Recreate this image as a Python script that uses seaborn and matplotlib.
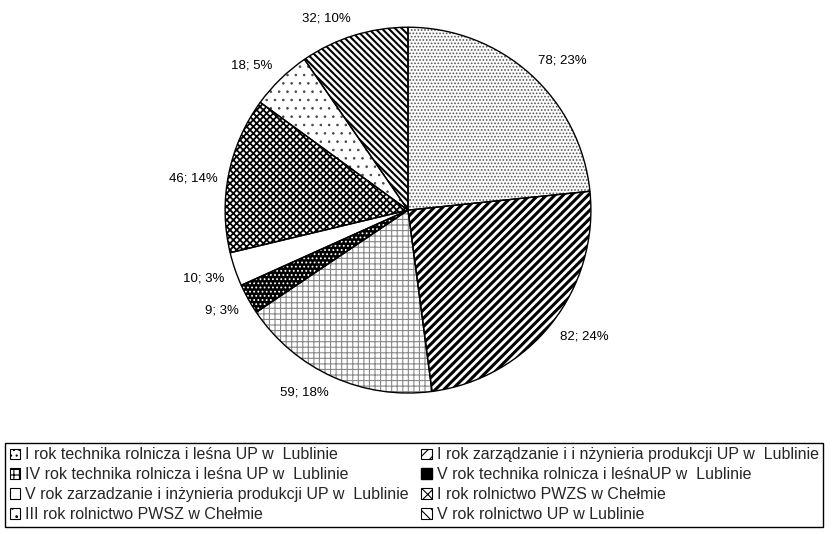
import numpy as np
import matplotlib.pyplot as plt
import matplotlib.patches as mpatches
import seaborn as sns

# data
groups = ['I rok technika rolnicza i leśna UP w  Lublinie',
          'I rok zarządzanie i i nżynieria produkcji UP w  Lublinie',
          'IV rok technika rolnicza i leśna UP w  Lublinie',
          'V rok technika rolnicza i leśnaUP w  Lublinie',
          'V rok zarzadzanie i inżynieria produkcji UP w  Lublinie',
          'I rok rolnictwo PWZS w Chełmie',
          'III rok rolnictwo PWSZ w Chełmie',
          'V rok rolnictwo UP w Lublinie']
counts = [78, 82, 59, 9, 10, 46, 18, 32]
percents = [23, 24, 18, 3, 3, 14, 5, 10]

# black & white look of the original
faces = ['white', 'white', 'white', 'black', 'white', 'white', 'white', 'white']
hatch_cols = ['#555555', 'black', '#888888', 'white', 'white', 'black', '#444444', 'black']
hatches = ['.....', '////', '+++', '....', '', 'xxxxx', '..', '\\\\\\\\\\']
hatch_lw = [0.8, 2.2, 0.8, 0.8, 0.8, 1.3, 0.6, 1.5]

sns.set_theme(style='white')
plt.rcParams['font.family'] = ['Liberation Sans', 'DejaVu Sans']
plt.rcParams['hatch.linewidth'] = 0.8

fig = plt.figure(figsize=(8.32, 5.34), dpi=100)
ax = fig.add_axes([0.2704, 0.264, 0.44, 0.685])

labels = [f'{c}; {p}%' for c, p in zip(counts, percents)]

# hatched fill
wedges, _ = ax.pie(counts, startangle=90, counterclock=False, colors=faces)
for w, h, hc, lw in zip(wedges, hatches, hatch_cols, hatch_lw):
    w.set_hatch(h)
    w.set_edgecolor(hc)
    w.set_linewidth(0)
    if hasattr(w, 'set_hatch_linewidth'):
        w.set_hatch_linewidth(lw)

# labels just outside the rim, anchored at the corner nearest the pie (Excel style)
for w, lab in zip(wedges, labels):
    ang = np.deg2rad((w.theta1 + w.theta2) / 2)
    x, y = 1.06 * np.cos(ang), 1.06 * np.sin(ang)
    ha = 'left' if x > 0 else 'right'
    va = 'bottom' if np.sin(ang) > 0.5 else 'top'
    ax.text(x, y, lab, ha=ha, va=va, fontsize=9.5, color='black')

# black outlines on top
ax.pie(counts, startangle=90, counterclock=False,
       colors=['none'] * len(counts),
       wedgeprops={'edgecolor': 'black', 'linewidth': 1})

ax.set_xlim(-1, 1)
ax.set_ylim(-1, 1)
ax.set_aspect('equal')

# legend handles, filled row by row like the original (2 columns)
handles = []
for f, h in zip(faces, hatches):
    handles.append(mpatches.Patch(facecolor=f, hatch=h[:3], edgecolor='black', linewidth=0.8))
handles[3] = mpatches.Patch(facecolor='black', hatch='', edgecolor='black')
order = [0, 2, 4, 6, 1, 3, 5, 7]

leg = fig.legend([handles[i] for i in order], [groups[i] for i in order],
                 loc='upper left', bbox_to_anchor=(0.006, 0.171),
                 ncol=2, fontsize=11.5, frameon=True, fancybox=False,
                 edgecolor='black', framealpha=1, handlelength=0.65,
                 handleheight=0.65, handletextpad=0.3, columnspacing=0.8,
                 labelspacing=0.3, borderpad=0.3, borderaxespad=0)
leg.get_frame().set_linewidth(1)

fig.savefig('out.png', dpi=100)
